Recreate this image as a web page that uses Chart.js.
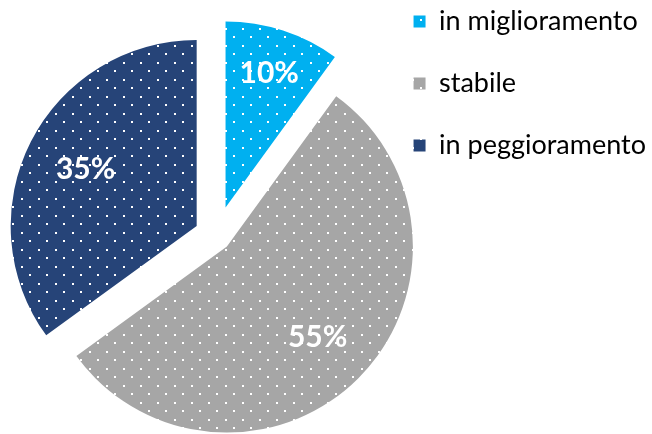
<!DOCTYPE html>
<html>
<head>
<meta charset="utf-8">
<script src="https://cdn.jsdelivr.net/npm/chart.js@4.4.0/dist/chart.umd.min.js"></script>
<style>
  body { margin: 0; background: #fff; overflow: hidden; }
  /* canvas is a bit taller than the page so the pie sits lower than the legend */
  #chart { display: block; margin-top: -27px; }
</style>
</head>
<body>
<canvas id="chart" width="652" height="526"></canvas>
<script>
// Pie data
const categories = ['in miglioramento', 'stabile', 'in peggioramento'];
const shares = [10, 55, 35];

const sliceColors = ['#00b0f0', '#a6a6a6', '#264478'];
const explode = [30, 15, 22];          // how far each slice is pulled out (px)
const labelDepth = [0.76, 0.69, 0.67]; // label distance as a fraction of the radius

const canvas = document.getElementById('chart');
const ctx = canvas.getContext('2d');

// small white dots on the slice colour
function dotted(color) {
    const tile = document.createElement('canvas');
    tile.width = 17;
    tile.height = 17;
    const t = tile.getContext('2d');
    t.fillStyle = color;
    t.fillRect(0, 0, 17, 17);
    t.fillStyle = '#ffffff';
    t.fillRect(4, 4, 2, 2);
    t.fillRect(12, 12, 2, 2);
    return ctx.createPattern(tile, 'repeat');
}

// pull every slice out along its middle angle
const explodePlugin = {
    id: 'explode',
    afterDatasetsUpdate(chart) {
        chart.getDatasetMeta(0).data.forEach(function(arc, i) {
            const mid = (arc.startAngle + arc.endAngle) / 2;
            arc.x += Math.cos(mid) * explode[i];
            arc.y += Math.sin(mid) * explode[i];
        });
    }
};

// percentage text inside the slices
const percentPlugin = {
    id: 'percent',
    afterDatasetsDraw(chart) {
        const c = chart.ctx;
        const total = shares.reduce((a, b) => a + b, 0);
        c.save();
        c.fillStyle = '#ffffff';
        c.font = 'bold 30px Lato';
        c.textAlign = 'center';
        c.textBaseline = 'middle';
        chart.getDatasetMeta(0).data.forEach(function(arc, i) {
            const mid = (arc.startAngle + arc.endAngle) / 2;
            const r = arc.outerRadius * labelDepth[i];
            const pct = Math.round(shares[i] / total * 100) + '%';
            c.fillText(pct, arc.x + Math.cos(mid) * r, arc.y + Math.sin(mid) * r);
        });
        c.restore();
    }
};

new Chart(ctx, {
    type: 'pie',
    data: {
        labels: categories,
        datasets: [{
            data: shares,
            backgroundColor: sliceColors.map(dotted),
            borderWidth: 0
        }]
    },
    options: {
        responsive: false,
        animation: false,
        radius: 186,
        layout: {
            padding: { top: 0, bottom: 0, left: 54, right: -4 }
        },
        plugins: {
            tooltip: { enabled: false },
            legend: {
                position: 'right',
                align: 'start',
                labels: {
                    boxWidth: 12,
                    boxHeight: 12,
                    padding: 35,
                    color: '#000000',
                    font: { family: 'Lato', size: 27 }
                }
            }
        }
    },
    plugins: [explodePlugin, percentPlugin]
});
</script>
</body>
</html>
